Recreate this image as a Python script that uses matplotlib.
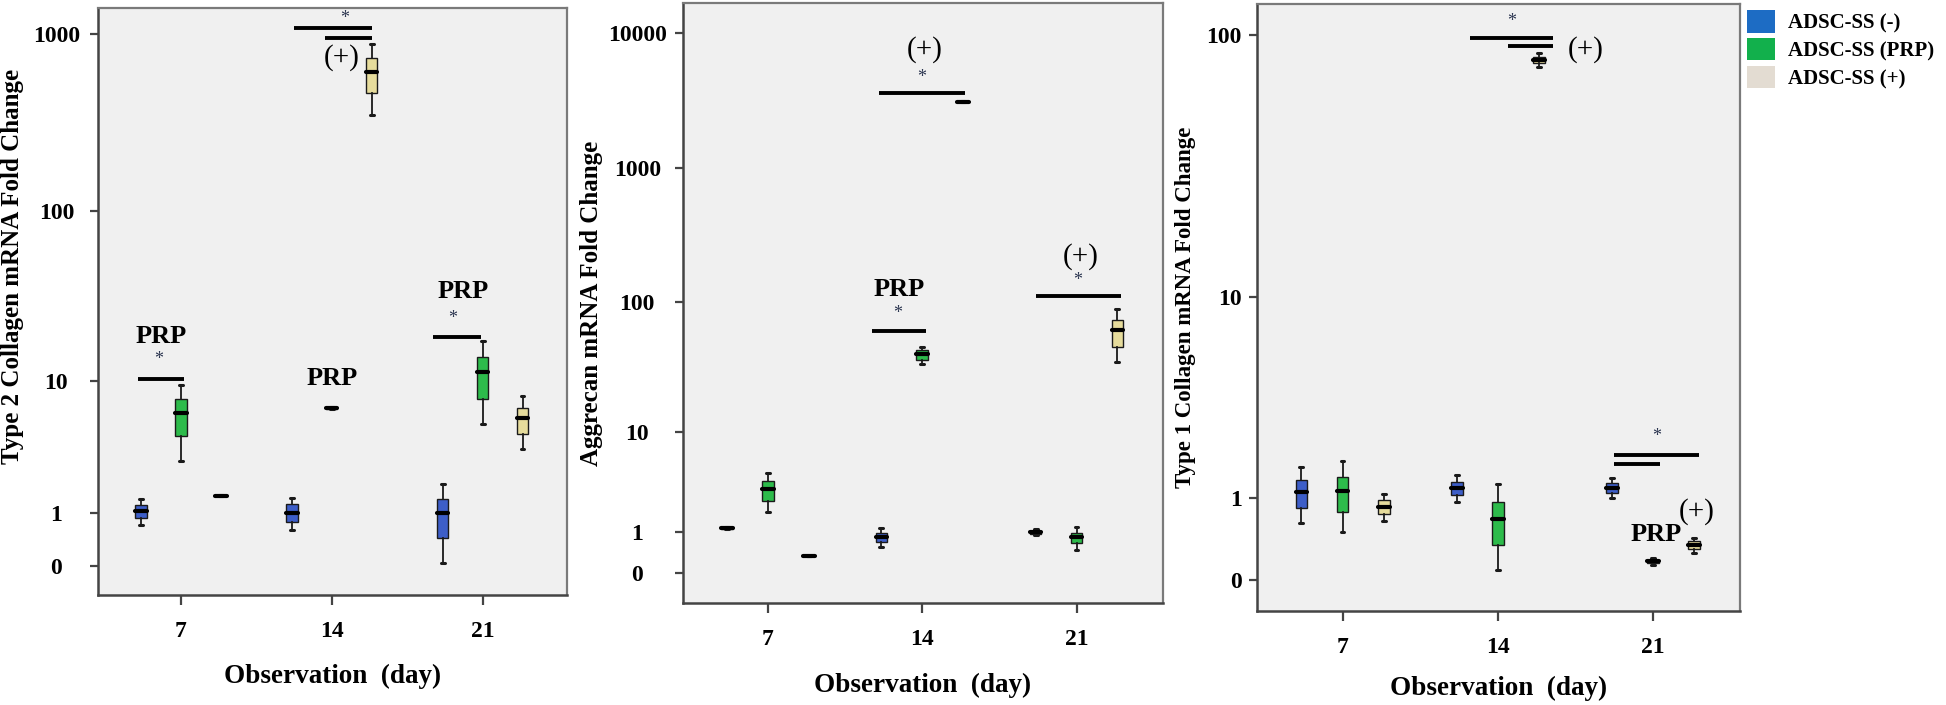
import numpy as np
import matplotlib
matplotlib.use('Agg')
import matplotlib.pyplot as plt
from matplotlib.patches import Patch

# ---------------- data ----------------
days = ['7', '14', '21']
groups = ['ADSC-SS (-)', 'ADSC-SS (PRP)', 'ADSC-SS (+)']

# Type 2 collagen (rows = groups, cols = days)
col2_med = [[1.03, 1.00, 0.98], [6.3, 6.8, 11.5], [1.49, 617, 5.84]]
col2_q1 = [[0.87, 0.77, 0.43], [4.4, 6.7, 7.8], [1.47, 469, 4.53]]
col2_q3 = [[1.22, 1.24, 1.39], [7.8, 6.9, 14.2], [1.51, 740, 6.8]]
col2_lo = [[0.70, 0.60, 0.04], [2.9, 6.7, 5.3], [1.47, 352, 3.6]]
col2_hi = [[1.40, 1.42, 1.90], [9.5, 6.9, 17.7], [1.51, 888, 8.1]]

# Aggrecan
agg_med = [[1.15, 0.85, 1.01], [3.19, 40.9, 0.85], [0.34, 3080, 62.1]]
agg_q1 = [[1.11, 0.70, 0.96], [2.41, 36.8, 0.67], [0.335, 3050, 46.2]]
agg_q3 = [[1.19, 0.98, 1.06], [3.80, 43.9, 0.98], [0.345, 3110, 73.8]]
agg_lo = [[1.10, 0.56, 0.92], [1.83, 34.3, 0.48], [0.335, 3050, 35.5]]
agg_hi = [[1.20, 1.15, 1.10], [4.51, 46.2, 1.19], [0.345, 3110, 89.3]]

# Type 1 collagen
col1_med = [[1.11, 1.18, 1.18], [1.12, 0.68, 0.17], [0.85, 80.6, 0.35]]
col1_q1 = [[0.84, 1.05, 1.09], [0.78, 0.35, 0.155], [0.75, 78.5, 0.30]]
col1_q3 = [[1.33, 1.29, 1.27], [1.39, 0.94, 0.185], [0.97, 83.0, 0.39]]
col1_lo = [[0.62, 0.94, 1.00], [0.50, 0.09, 0.14], [0.65, 76.0, 0.26]]
col1_hi = [[1.60, 1.43, 1.37], [1.74, 1.25, 0.20], [1.07, 85.5, 0.43]]

# significance annotations: lines (x0, x1, y) and texts (x, y, label)
col2_lines = [(-0.285, 0.02, 10.4), (0.749, 1.267, 1081), (0.955, 1.267, 961), (1.671, 1.989, 18.7)]
col2_texts = [(-0.13, 18.7, 'PRP'), (-0.15, 13.6, '*'), (1.0, 10.5, 'PRP'), (1.088, 1230, '*'),
              (1.068, 741, '(+)'), (1.87, 34.3, 'PRP'), (1.80, 24.0, '*')]
agg_lines = [(0.673, 1.023, 61), (0.718, 1.275, 3590), (1.735, 2.29, 112)]
agg_texts = [(0.848, 124, 'PRP'), (0.84, 83, '*'), (1.016, 7480, '(+)'), (0.997, 4700, '*'),
             (2.03, 218, '(+)'), (2.01, 146, '*')]
col1_lines = [(0.823, 1.357, 97.4), (1.068, 1.357, 90.9), (1.749, 2.296, 1.87), (1.749, 2.045, 1.68)]
col1_texts = [(1.087, 112.5, '*'), (1.563, 87.9, '(+)'), (2.02, 2.36, '*'), (2.02, 0.47, 'PRP'),
              (2.283, 0.79, '(+)')]

# ---------------- style ----------------
box_colors = ['#3d5ec8', '#2dbb4b', '#e6dc9c']
legend_colors = ['#1d6cc4', '#12b04c', '#e3dcd2']
offsets = [-0.265, 0.0, 0.265]
SERIF = ['Liberation Serif', 'DejaVu Serif']


def fwd(x):
    return np.log10(np.clip(np.asarray(x, dtype=float) + 1.0, 1e-9, None))


def inv(t):
    return 10.0 ** np.asarray(t, dtype=float) - 1.0


fig = plt.figure(figsize=(19.46, 7.05), dpi=100)

panels = [
    dict(rect=[0.0504, 0.156, 0.2410, 0.8327], stats=(col2_med, col2_q1, col2_q3, col2_lo, col2_hi),
         ticks=[0, 1, 10, 100, 1000], tlim=(-0.164, 3.15), ylabel='Type 2 Collagen mRNA Fold Change',
         lines=col2_lines, texts=col2_texts, ha='center', pad=24, ylab_xy=(-0.183, 0.56), ylab_size=18,
         xlab_y=-0.138),
    dict(rect=[0.351, 0.1447, 0.2466, 0.851], stats=(agg_med, agg_q1, agg_q3, agg_lo, agg_hi),
         ticks=[0, 1, 10, 100, 1000, 10000], tlim=(-0.222, 4.22), ylabel='Aggrecan mRNA Fold Change',
         lines=agg_lines, texts=agg_texts, ha='center', pad=27, ylab_xy=(-0.19, 0.5), ylab_size=18,
         xlab_y=-0.137),
    dict(rect=[0.646, 0.1333, 0.2482, 0.861], stats=(col1_med, col1_q1, col1_q3, col1_lo, col1_hi),
         ticks=[0, 1, 10, 100], tlim=(-0.114, 2.118), ylabel='Type 1 Collagen mRNA Fold Change',
         lines=col1_lines, texts=col1_texts, ha='right', pad=5, ylab_xy=(-0.149, 0.5), ylab_size=16.5,
         xlab_y=-0.127),
]

for p in panels:
    ax = fig.add_axes(p['rect'])
    ax.set_yscale('function', functions=(fwd, inv))
    ax.set_facecolor('#f0f0f0')
    med, q1, q3, lo, hi = p['stats']
    for g in range(len(groups)):
        stats = []
        for d in range(len(days)):
            stats.append(dict(med=med[g][d], q1=q1[g][d], q3=q3[g][d],
                              whislo=lo[g][d], whishi=hi[g][d], fliers=[]))
        pos = [d + offsets[g] for d in range(len(days))]
        ax.bxp(stats, positions=pos, widths=0.075, patch_artist=True, showfliers=False,
               boxprops=dict(facecolor=box_colors[g], edgecolor='#1a1a1a', linewidth=1.0),
               medianprops=dict(color='black', linewidth=3.0, solid_capstyle='round'),
               whiskerprops=dict(color='#1a1a1a', linewidth=1.3),
               capprops=dict(color='#1a1a1a', linewidth=2.2, solid_capstyle='round'),
               capwidths=0.025)
    for x0, x1, y in p['lines']:
        ax.plot([x0, x1], [y, y], color='black', linewidth=2.8, solid_capstyle='butt')
    for x, y, s in p['texts']:
        if s == 'PRP':
            ax.text(x, y, s, ha='center', va='center', fontsize=19, fontweight='bold', family=SERIF)
        elif s == '*':
            ax.text(x, y, s, ha='center', va='center', fontsize=13, color='#2b3550', family=SERIF)
        else:
            ax.text(x, y, s, ha='center', va='center', fontsize=21, family=SERIF)

    ax.set_xlim(-0.55, 2.56)
    ax.set_ylim(inv(p['tlim'][0]), inv(p['tlim'][1]))
    ax.set_xticks(range(len(days)))
    ax.set_xticklabels(days)
    ax.set_yticks(p['ticks'])
    ax.set_yticklabels([str(t) for t in p['ticks']])
    ax.minorticks_off()
    ax.tick_params(axis='y', length=6, width=1.6, color='#444444', pad=p['pad'], labelsize=17)
    ax.tick_params(axis='x', length=7, width=1.6, color='#444444', pad=12, labelsize=17)
    for lab in ax.get_yticklabels():
        lab.set_horizontalalignment(p['ha'])
        lab.set_fontweight('bold')
        lab.set_family(SERIF)
    for lab in ax.get_xticklabels():
        lab.set_fontweight('bold')
        lab.set_family(SERIF)
    for side in ['left', 'bottom']:
        ax.spines[side].set_color('#444444')
        ax.spines[side].set_linewidth(1.8)
    for side in ['top', 'right']:
        ax.spines[side].set_color('#7a7a7a')
        ax.spines[side].set_linewidth(1.6)

    ax.set_ylabel(p['ylabel'], fontsize=p['ylab_size'], fontweight='bold', family=SERIF)
    ax.yaxis.set_label_coords(*p['ylab_xy'])
    ax.yaxis.label.set_va('center')
    ax.set_xlabel('Observation  (day)', fontsize=19.5, fontweight='bold', family=SERIF)
    ax.xaxis.set_label_coords(0.5, p['xlab_y'])
    ax.xaxis.label.set_va('center')

handles = [Patch(facecolor=c, edgecolor='none') for c in legend_colors]
fig.legend(handles, groups, loc='upper left', bbox_to_anchor=(0.8977, 0.986), frameon=False,
           prop=dict(family=SERIF, weight='bold', size=15), handlelength=1.35, handleheight=1.3,
           labelspacing=0.22, handletextpad=0.6, borderpad=0, borderaxespad=0)

fig.savefig('out.png', dpi=100, facecolor='white')
